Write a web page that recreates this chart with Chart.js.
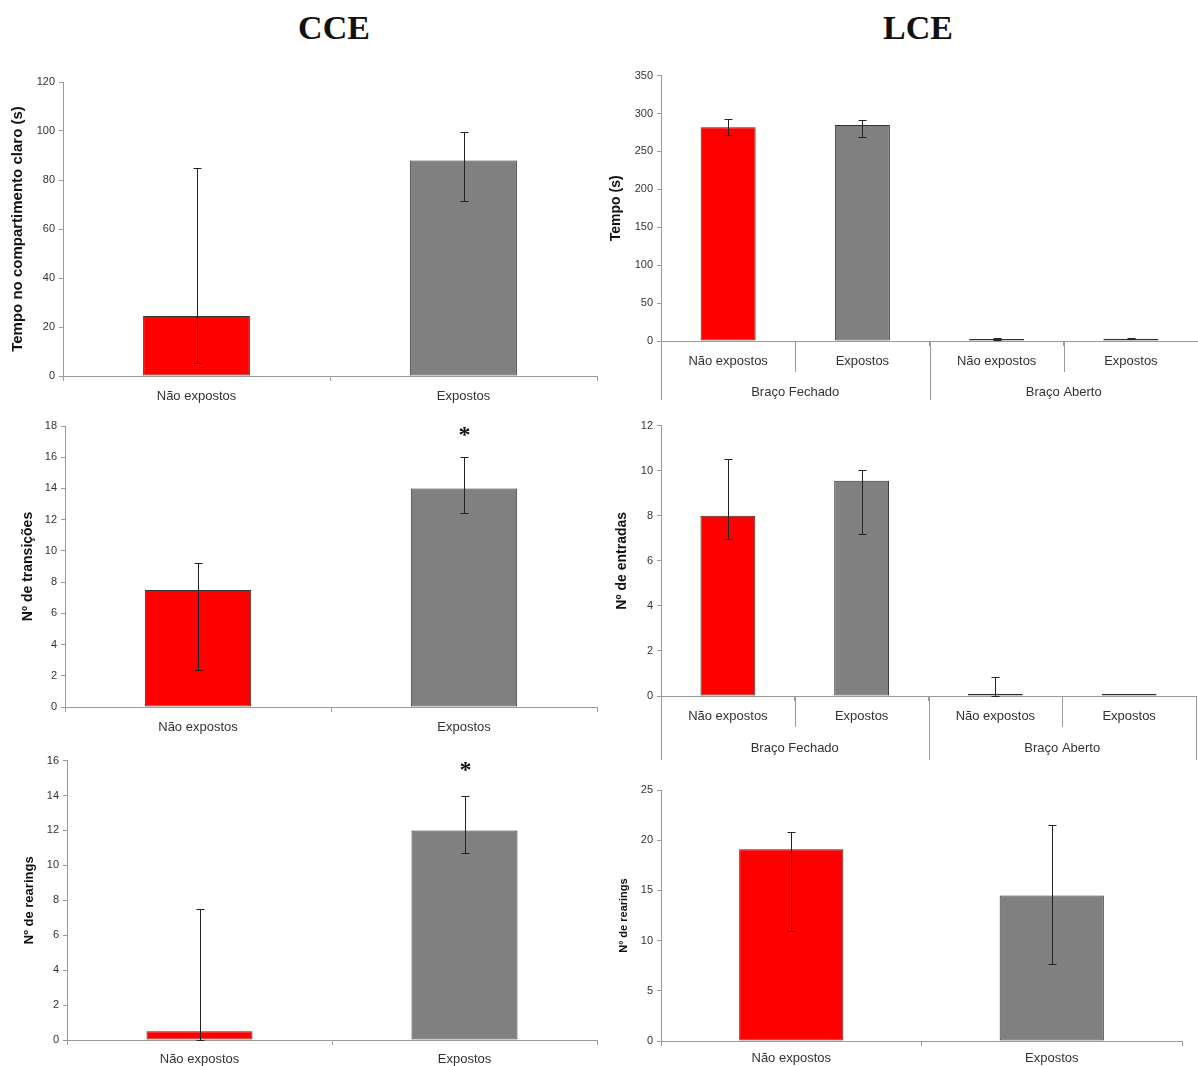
<!DOCTYPE html>
<html>
<head>
<meta charset="utf-8">
<script src="https://cdn.jsdelivr.net/npm/chart.js@4.4.1/dist/chart.umd.min.js"></script>
<style>
  body { margin: 0; background: #fff; width: 1198px; height: 1066px; position: relative; overflow: hidden; }
  .title { position: absolute; top: 9px; width: 200px; text-align: center; font: bold 34px "Liberation Serif", "Times New Roman", serif; color: #111; }
  .box { position: absolute; }
</style>
</head>
<body>
<div class="title" style="left:234px">CCE</div>
<div class="title" style="left:818px">LCE</div>
<div class="box" style="left:0;top:70px"><canvas id="c1" width="600" height="345"></canvas></div>
<div class="box" style="left:600px;top:65px"><canvas id="c2" width="598" height="345"></canvas></div>
<div class="box" style="left:0;top:415px"><canvas id="c3" width="600" height="335"></canvas></div>
<div class="box" style="left:600px;top:415px"><canvas id="c4" width="598" height="345"></canvas></div>
<div class="box" style="left:0;top:750px"><canvas id="c5" width="600" height="316"></canvas></div>
<div class="box" style="left:600px;top:775px"><canvas id="c6" width="598" height="291"></canvas></div>
<script>
// categories
var groups2 = ['Não expostos', 'Expostos'];
var groups4 = ['Não expostos', 'Expostos', 'Não expostos', 'Expostos'];
var arms = ['Braço Fechado', 'Braço Aberto'];

// CCE - tempo no compartimento claro
var cceTempo = [24.5, 88];
var cceTempoLow = [5.5, 71.5];
var cceTempoHigh = [85, 99.5];

// LCE - tempo nos braços
var lceTempo = [282, 285, 2, 3];
var lceTempoLow = [272, 269, 1.5, 2.5];
var lceTempoHigh = [293, 292, 3.5, 3.5];

// CCE - transições
var cceTrans = [7.5, 14];
var cceTransLow = [2.4, 12.4];
var cceTransHigh = [9.25, 16];
var cceTransSig = ['', '*'];

// LCE - entradas
var lceEntradas = [8, 9.55, 0.1, 0.1];
var lceEntradasLow = [6.95, 7.2, 0, 0.1];
var lceEntradasHigh = [10.5, 10.05, 0.85, 0.1];

// CCE - rearings
var cceRear = [0.5, 12];
var cceRearLow = [0, 10.7];
var cceRearHigh = [7.5, 14];
var cceRearSig = ['', '*'];

// LCE - rearings
var lceRear = [19.1, 14.5];
var lceRearLow = [11, 7.7];
var lceRearHigh = [20.8, 21.5];

var RED = '#FF0000', GREY = '#808080', AXIS = '#9a9a9a', TXT = '#333';
var SANS = '"Liberation Sans", Arial, sans-serif';

var errorBars = {
  id: 'errorBars',
  afterDatasetsDraw: function (chart, args, opts) {
    var ctx = chart.ctx, y = chart.scales.y;
    ctx.save();
    ctx.strokeStyle = '#222';
    ctx.lineWidth = 1;
    chart.getDatasetMeta(0).data.forEach(function (bar, i) {
      var top = Math.round(y.getPixelForValue(opts.high[i])) + 0.5;
      var bot = Math.round(y.getPixelForValue(opts.low[i])) + 0.5;
      var x = Math.round(bar.x) + 0.5;
      if (opts.high[i] !== opts.low[i]) {
        ctx.beginPath();
        ctx.moveTo(x, top); ctx.lineTo(x, bot);
        ctx.moveTo(x - 4, top); ctx.lineTo(x + 4, top);
        ctx.moveTo(x - 4, bot); ctx.lineTo(x + 4, bot);
        ctx.stroke();
      }
      if (opts.sig && opts.sig[i]) {
        ctx.fillStyle = '#111';
        ctx.font = 'bold 24px "Liberation Serif", serif';
        ctx.textAlign = 'center';
        ctx.textBaseline = 'middle';
        ctx.fillText(opts.sig[i], x, top - opts.sigGap);
      }
    });
    ctx.restore();
  }
};

var armAxis = {
  id: 'armAxis',
  afterDraw: function (chart, args, opts) {
    if (!opts.groups) return;
    var x = chart.scales.x, area = chart.chartArea, ctx = chart.ctx;
    var n = chart.data.labels.length, per = n / opts.groups.length;
    ctx.save();
    ctx.strokeStyle = AXIS;
    ctx.lineWidth = 1;
    for (var i = 0; i <= n; i++) {
      var px = i === 0 ? area.left : i === n ? area.right : (x.getPixelForTick(i - 1) + x.getPixelForTick(i)) / 2;
      var len = i % per === 0 ? opts.longLen : opts.shortLen;
      px = Math.round(px) + 0.5;
      ctx.beginPath();
      ctx.moveTo(px, area.bottom);
      ctx.lineTo(px, area.bottom + len);
      ctx.stroke();
    }
    ctx.fillStyle = TXT;
    ctx.font = '13px ' + SANS;
    ctx.textAlign = 'center';
    ctx.textBaseline = 'middle';
    opts.groups.forEach(function (g, k) {
      var a = x.getPixelForTick(k * per), b = x.getPixelForTick(k * per + per - 1);
      ctx.fillText(g, (a + b) / 2, area.bottom + opts.labelGap);
    });
    ctx.restore();
  }
};

function makeChart(id, labels, values, low, high, s) {
  new Chart(document.getElementById(id), {
    type: 'bar',
    data: {
      labels: labels,
      datasets: [{
        data: values,
        backgroundColor: labels.map(function (l, i) { return i % 2 ? GREY : RED; }),
        borderColor: '#333',
        borderWidth: 1,
        borderSkipped: false,
        minBarLength: 2,
        barPercentage: s.barPct,
        categoryPercentage: 1
      }]
    },
    options: {
      responsive: false,
      animation: false,
      layout: { padding: { top: s.pt, right: s.pr, left: 0, bottom: 0 } },
      plugins: {
        legend: { display: false },
        tooltip: { enabled: false },
        errorBars: { low: low, high: high, sig: s.sig, sigGap: s.sigGap || 0 },
        armAxis: { groups: s.groups, shortLen: s.shortLen, longLen: s.longLen, labelGap: s.labelGap }
      },
      scales: {
        x: {
          offset: true,
          grid: { drawOnChartArea: false, tickLength: 5, color: AXIS },
          border: { color: AXIS },
          ticks: { color: TXT, font: { size: 13, family: SANS }, padding: s.labelPad, maxRotation: 0, autoSkip: false },
          afterFit: function (sc) { sc.height = s.xh; }
        },
        y: {
          min: 0, max: s.max,
          grid: { drawOnChartArea: false, tickLength: 4, color: AXIS },
          border: { color: AXIS },
          ticks: { stepSize: s.step, color: TXT, font: { size: 11, family: SANS }, padding: 4 },
          title: { display: true, text: s.title, color: '#111', font: { size: s.titleSize, weight: 'bold', family: SANS }, padding: { top: s.titlePad, bottom: 0 } },
          afterFit: function (sc) { sc.width = s.yw; }
        }
      }
    },
    plugins: [errorBars, armAxis]
  });
}

makeChart('c1', groups2, cceTempo, cceTempoLow, cceTempoHigh,
  { max: 120, step: 20, title: 'Tempo no compartimento claro (s)', titleSize: 15, titlePad: 9, yw: 63, xh: 39, pt: 12, pr: 3, labelPad: 8, barPct: 0.4 });
makeChart('c2', groups4, lceTempo, lceTempoLow, lceTempoHigh,
  { max: 350, step: 50, title: 'Tempo (s)', titleSize: 14, titlePad: 8, yw: 61, xh: 69, pt: 10, pr: 0, labelPad: 8, barPct: 0.41,
    groups: arms, shortLen: 31, longLen: 59, labelGap: 51 });
makeChart('c3', groups2, cceTrans, cceTransLow, cceTransHigh,
  { max: 18, step: 2, title: 'Nº de transições', titleSize: 14, titlePad: 20, yw: 65, xh: 43, pt: 11, pr: 3, labelPad: 8, barPct: 0.4,
    sig: cceTransSig, sigGap: 22 });
makeChart('c4', groups4, lceEntradas, lceEntradasLow, lceEntradasHigh,
  { max: 12, step: 2, title: 'Nº de entradas', titleSize: 14, titlePad: 14, yw: 61, xh: 64, pt: 9, pr: 2, labelPad: 8, barPct: 0.41,
    groups: arms, shortLen: 31, longLen: 64, labelGap: 52 });
makeChart('c5', groups2, cceRear, cceRearLow, cceRearHigh,
  { max: 16, step: 2, title: 'Nº de rearings', titleSize: 13, titlePad: 22, yw: 67, xh: 26, pt: 9, pr: 3, labelPad: 7, barPct: 0.4,
    sig: cceRearSig, sigGap: 26 });
makeChart('c6', groups2, lceRear, lceRearLow, lceRearHigh,
  { max: 25, step: 5, title: 'Nº de rearings', titleSize: 11, titlePad: 17, yw: 61, xh: 25, pt: 15, pr: 16, labelPad: 5, barPct: 0.4 });
</script>
</body>
</html>
